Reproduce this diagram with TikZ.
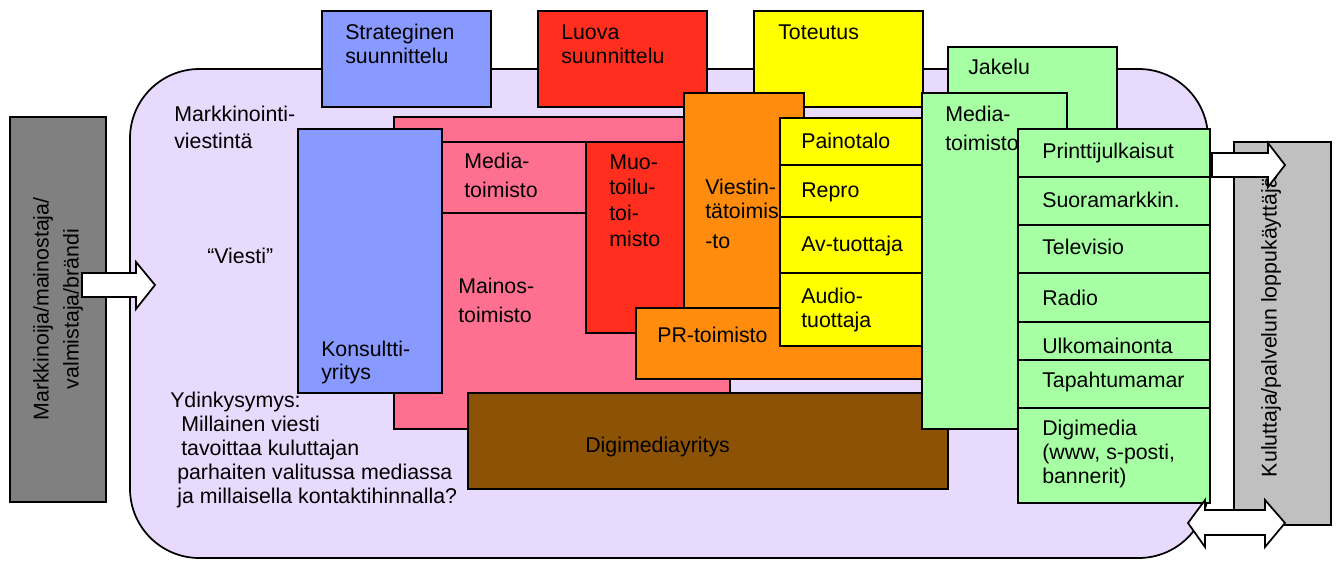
\documentclass[tikz,border=0pt]{standalone}
\usepackage{fontspec}
\setmainfont{Liberation Sans}
\usetikzlibrary{fit}
\definecolor{lav}{HTML}{E8DAFC}
\definecolor{cblue}{HTML}{8899FF}
\definecolor{cred}{HTML}{FF2E1E}
\definecolor{cyel}{HTML}{FFFF00}
\definecolor{corange}{HTML}{FF8C0C}
\definecolor{cpink}{HTML}{FF7090}
\definecolor{cgreen}{HTML}{A6FFA2}
\definecolor{cbrown}{HTML}{8C5206}
\definecolor{dgray}{HTML}{808080}
\definecolor{lgray}{HTML}{C0C0C0}
\begin{document}
\begin{tikzpicture}[x=0.75pt,y=-0.75pt,
  box/.style={draw=black, line width=1.3pt, inner sep=0pt, outer sep=0pt},
  lbl/.style={anchor=north west, inner sep=0pt, align=left, yshift=12.6pt, font=\fontsize{16}{18}\selectfont},
  barrow/.style={draw=black, line width=1.3pt, fill=white, line join=miter}]
\useasboundingbox (0,0) rectangle (1336,561);

% main lavender area
\node[box, fill=lav, rounded corners=52pt, fit={(130,69) (1208,558)}] (mv) {};

% left actor
\node[box, fill=dgray, fit={(10,117) (106,502)}] (grayL) {};
\node[rotate=90, align=center, inner sep=0pt, font=\fontsize{16}{18}\selectfont] (grayLt) at (58,309) {Markkinoija/mainostaja/\\[4.5pt]valmistaja/brändi};
\draw[barrow] (82,273) -- (136,273) -- (136,262) -- (155,285) -- (136,309) -- (136,297) -- (82,297) -- cycle;

% top boxes
\node[box, fill=cblue, fit={(322,11) (491,107)}] (strat) {};
\node[box, fill=cred, fit={(538,11) (707,107)}] (luova) {};
\node[box, fill=cyel, fit={(754,11) (923,107)}] (tot) {};
\node[box, fill=cgreen, fit={(948,47) (1117,200)}] (jak) {};

% agencies
\node[box, fill=cpink, fit={(394,117) (730,429)}] (mainos) {};
\node[box, fill=cblue, fit={(298,129) (442,393)}] (kons) {};
\node[box, fill=cpink, fit={(442,142) (586,213)}] (medp) {};
\node[box, fill=cred, fit={(586,142) (700,333)}] (muot) {};
\node[box, fill=corange, fit={(684,93) (804,320)}] (viest) {};
\node[box, fill=corange, fit={(636,308) (922,379)}] (pr) {};
\node[box, fill=cyel, fit={(780,118) (922,165)}] (paino) {};
\node[box, fill=cyel, fit={(780,165) (922,217)}] (repro) {};
\node[box, fill=cyel, fit={(780,217) (922,273)}] (av) {};
\node[box, fill=cyel, fit={(780,273) (922,346)}] (audio) {};
\node[box, fill=cbrown, fit={(468,393) (948,489)}] (digy) {};
\node[box, fill=cgreen, fit={(922,93) (1067,429)}] (medg) {};
\node[box, fill=cgreen, fit={(1018,129) (1210,177)}] (print) {};
\node[box, fill=cgreen, fit={(1018,177) (1210,225)}] (suora) {};
\node[box, fill=cgreen, fit={(1018,225) (1210,273)}] (tv) {};
\node[box, fill=cgreen, fit={(1018,273) (1210,322)}] (radio) {};
\node[box, fill=cgreen, fit={(1018,322) (1210,360)}] (ulko) {};
\node[box, fill=cgreen, fit={(1018,360) (1210,408)}] (tapa) {};
\node[box, fill=cgreen, fit={(1018,408) (1210,503)}] (digi) {};

% right actor
\node[box, fill=lgray, fit={(1234,142) (1331,525)}] (grayR) {};
\node[rotate=90, inner sep=0pt, font=\fontsize{16}{18}\selectfont] (grayRt) at (1271,327) {Kuluttaja/palvelun loppukäyttäjä};
\draw[barrow] (1212,153) -- (1268,153) -- (1268,143) -- (1285,165) -- (1268,187) -- (1268,177) -- (1212,177) -- cycle;
\draw[barrow] (1188,523) -- (1205,500) -- (1205,510) -- (1265,510) -- (1265,500) -- (1285,523) -- (1265,547) -- (1265,535) -- (1205,535) -- (1205,547) -- cycle;

% texts
\node[lbl] (tmv) at (174,121) {\strut Markkinointi-\\[2.25pt]\strut viestintä};
\node[lbl] (tviesti) at (207,263) {\strut “Viesti”};
\node[lbl] (tydin) at (170,407) {\strut Ydinkysymys:\\\strut\hspace*{8.25pt}Millainen viesti\\\strut\hspace*{8.25pt}tavoittaa kuluttajan\\\strut\hspace*{5.25pt}parhaiten valitussa mediassa\\\strut\hspace*{5.25pt}ja millaisella kontaktihinnalla?};
\node[lbl] (tstrat) at (345,39) {\strut Strateginen\\\strut suunnittelu};
\node[lbl] (tluova) at (561,39) {\strut Luova\\\strut suunnittelu};
\node[lbl] (ttot) at (778,39) {\strut Toteutus};
\node[lbl] (tjak) at (968,74) {\strut Jakelu};
\node[lbl] (tmedg) at (945,121) {\strut Media-\\[3.75pt]\strut toimisto};
\node[lbl] (tmedp) at (464,168) {\strut Media-\\[3.75pt]\strut toimisto};
\node[lbl] (tmainos) at (458,293) {\strut Mainos-\\[3.75pt]\strut toimisto};
\node[lbl] (tkons) at (321,356) {\strut Konsultti-\\[-0.75pt]\strut yritys};
\node[lbl] (tmuot) at (609,169) {\strut Muo-\\[1.25pt]\strut toilu-\\[1.25pt]\strut toi-\\[1.25pt]\strut misto};
\node[lbl] (tviest) at (705,194) {\strut Viestin-\\\strut tätoimis\\[4.5pt]\strut -to};
\node[lbl] (tpr) at (657,342) {\strut PR-toimisto};
\node[lbl] (tpaino) at (801,148) {\strut Painotalo};
\node[lbl] (trepro) at (801,197) {\strut Repro};
\node[lbl] (tav) at (801,251) {\strut Av-tuottaja};
\node[lbl] (taudio) at (801,303) {\strut Audio-\\\strut tuottaja};
\node[lbl] (tdigy) at (585,452) {\strut Digimediayritys};
\node[lbl] (tprint) at (1042,158) {\strut Printtijulkaisut};
\node[lbl] (tsuora) at (1042,207) {\strut Suoramarkkin.};
\node[lbl] (ttv) at (1042,254) {\strut Televisio};
\node[lbl] (tradio) at (1042,305) {\strut Radio};
\node[lbl] (tulko) at (1042,353) {\strut Ulkomainonta};
\node[lbl] (ttapa) at (1042,387) {\strut Tapahtumamar};
\node[lbl] (tdigi) at (1042,435) {\strut Digimedia\\\strut (www, s-posti,\\\strut bannerit)};
\end{tikzpicture}
\end{document}
